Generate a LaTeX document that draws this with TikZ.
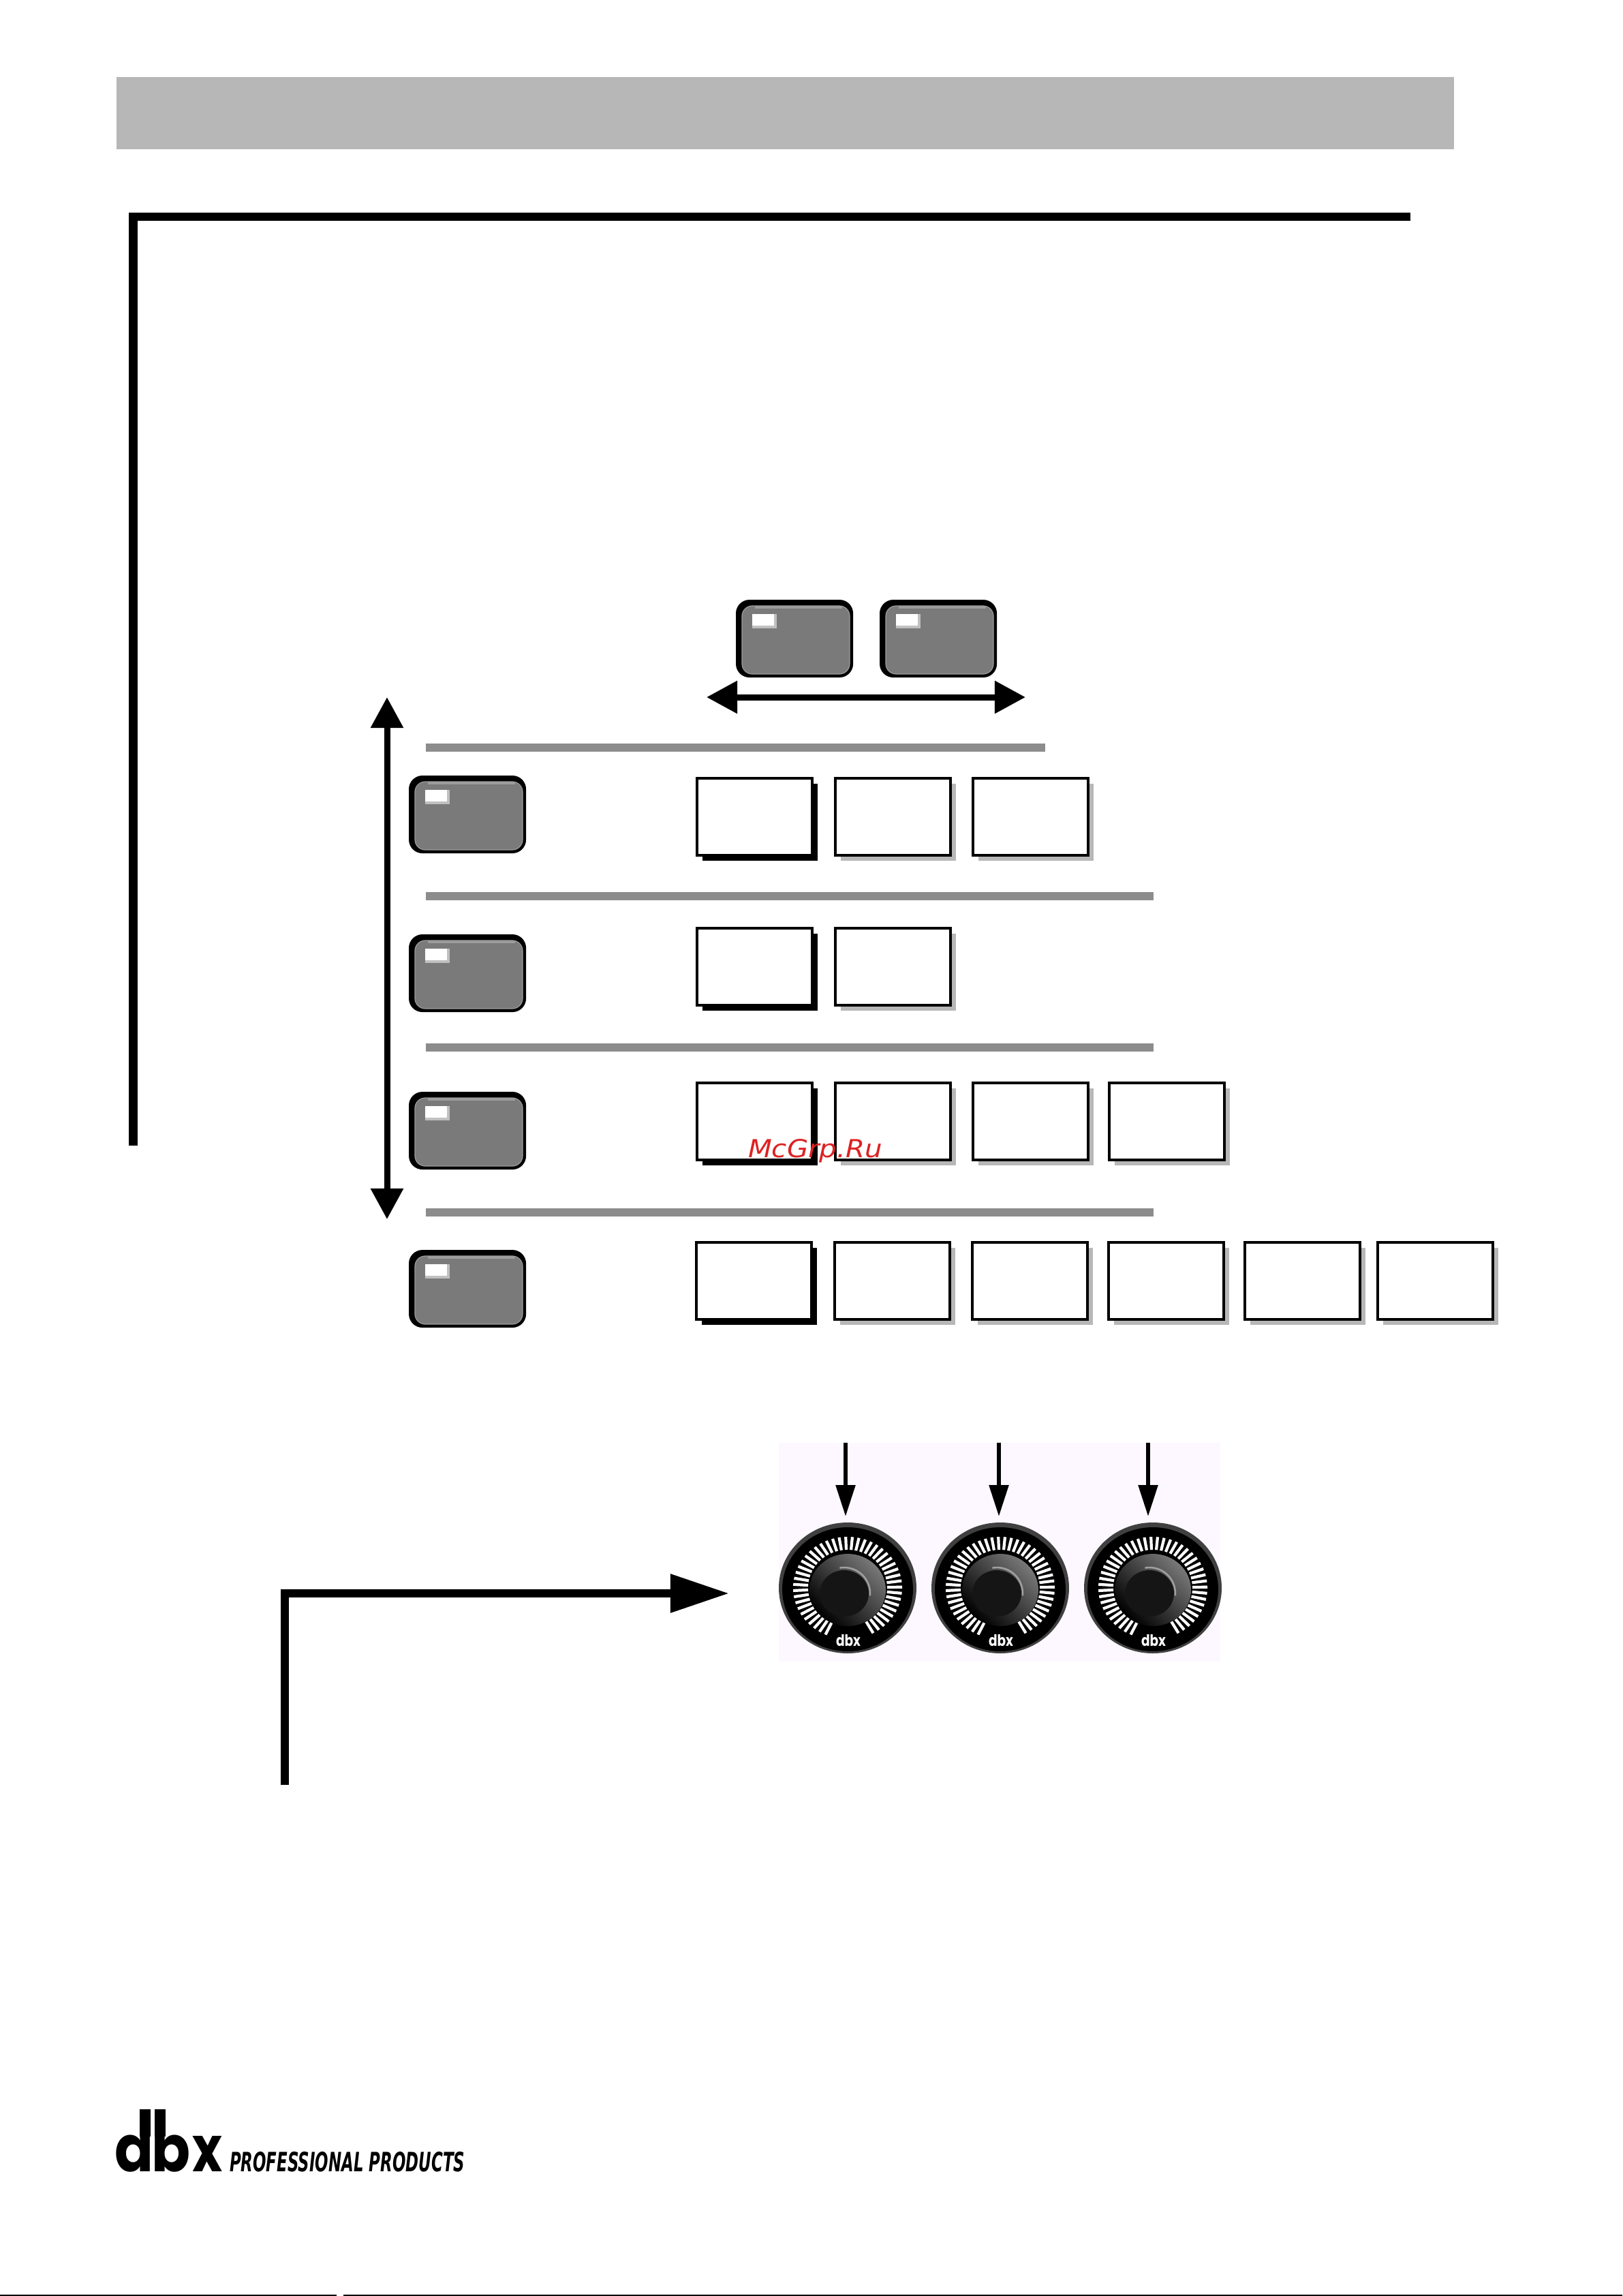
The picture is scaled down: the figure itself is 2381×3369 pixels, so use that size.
\documentclass[tikz,border=0pt]{standalone}
\usepackage{fontspec}
\usepackage{graphicx}
\usetikzlibrary{arrows.meta,shadows}
\newfontfamily\logofont{Poppins}
\newfontfamily\subfont{DejaVu Sans}
\newfontfamily\markfont{DejaVu Sans}
\definecolor{bandgray}{HTML}{B7B7B7}
\definecolor{bargray}{HTML}{8C8C8C}
\definecolor{btnface}{HTML}{7A7A7A}
\definecolor{btnrim}{HTML}{9C9C9C}
\definecolor{ledshade}{HTML}{C0C0C0}
\definecolor{panelpink}{HTML}{FDF8FF}
\definecolor{markred}{HTML}{DD2222}
\definecolor{knobrim}{HTML}{404040}
\definecolor{knobcap}{HTML}{151515}
\definecolor{knobglow}{HTML}{787878}
\definecolor{knobarc}{HTML}{A0A0A0}
\tikzset{
  bandfill/.style={fill=bandgray},
  barfill/.style={fill=bargray},
  btnbody/.style={rectangle,fill=black,rounded corners=.2cm,minimum width=1.72cm,minimum height=1.14cm,inner sep=0,outer sep=0,anchor=north west},
  menubase/.style={rectangle,draw=black,fill=white,line width=.04cm,minimum width=1.69cm,minimum height=1.13cm,inner sep=0,outer sep=.02cm,anchor=north west},
  menublack/.style={menubase,general shadow={shadow xshift=.08cm,shadow yshift=-.08cm,fill=black}},
  menugray/.style={menubase,general shadow={shadow xshift=.08cm,shadow yshift=-.08cm,fill=bandgray}},
  rule/.style={line width=.125cm,line cap=butt,line join=miter},
  bigdouble/.style={line width=.09cm,{Triangle[length=.45cm,width=.46cm]}-{Triangle[length=.45cm,width=.46cm]}},
  elbowarrow/.style={line width=.12cm,line join=miter,-{Triangle[length=.86cm,width=.54cm]}},
  thinarrow/.style={line width=.055cm,-{Triangle[length=.46cm,width=.28cm]}},
  knobtick/.style={draw=white,line width=.042cm},
  markinvis/.style={inner sep=0,outer sep=0}
}
\newcommand\ctlbtn[3]{%
  \node[btnbody] (#1) at (#2,#3) {};
  \filldraw[fill=btnface,draw=btnrim,line width=.012cm,rounded corners=.15cm] (#2+9,#3+9) rectangle (#2+167,#3+109);
  \fill[btnrim] (#2+28,#3+9) rectangle (#2+156,#3+13);
  \fill[ledshade] (#2+24,#3+21) rectangle (#2+60,#3+42);
  \fill[white] (#2+24,#3+21) rectangle (#2+56,#3+38);
}
\newcommand\menubox[4]{\node[#4] (#1) at (#2,#3) {};}
\newcommand\dialknob[2]{%
  \begin{scope}[shift={(#2,2330)}]
    \fill[knobrim] (0,0) ellipse[x radius=101,y radius=96];
    \fill[black] (0,2) ellipse[x radius=96,y radius=91];
    \foreach \ang in {114,121,...,426} {\draw[knobtick] (\ang:58 and 56) -- (\ang:80 and 75);}
    \shade[bottom color=black,middle color=black,top color=knobglow,shading angle=-45] (0,3) ellipse[x radius=56,y radius=53];
    \fill[knobcap] (-5,8) ellipse[x radius=36,y radius=34];
    \draw[knobarc,line width=.025cm] (-5,8) ++(-100:38 and 38) arc[start angle=-100,end angle=5,x radius=38,y radius=38];
    \node[inner sep=0,text=white] (#1) at (1,77) {\resizebox{.36cm}{.17cm}{\logofont\bfseries dbx}};
  \end{scope}%
}
\begin{document}
\begin{tikzpicture}[x=.01cm,y=-.01cm]
\useasboundingbox (0,0) rectangle (2381,3369);
\fill[white] (0,0) rectangle (2381,3369);
% header band
\fill[bandfill] (171,113) rectangle (2134,219);
% top L rule
\coordinate (lA) at (2070,318);
\coordinate (lB) at (195.5,318);
\coordinate (lC) at (195.5,1681);
\draw[rule] (lA) -- (lB) -- (lC);
% top buttons
\ctlbtn{bTopA}{1080}{880}
\ctlbtn{bTopB}{1291}{880}
\coordinate (hL) at (1037,1023);
\coordinate (hR) at (1505,1023);
\draw[bigdouble] (hL) -- (hR);
% vertical arrow
\coordinate (vT) at (568,1023);
\coordinate (vB) at (568,1789);
\draw[bigdouble] (vT) -- (vB);
% bars
\fill[barfill] (625,1091) rectangle (1534,1103);
\fill[barfill] (625,1309) rectangle (1693,1321);
\fill[barfill] (625,1531) rectangle (1693,1543);
\fill[barfill] (625,1773) rectangle (1693,1785);
% side buttons
\ctlbtn{bRowA}{600}{1138}
\ctlbtn{bRowB}{600}{1371}
\ctlbtn{bRowC}{600}{1602}
\ctlbtn{bRowD}{600}{1834}
% menu boxes
\menubox{mA1}{1021}{1140}{menublack}
\menubox{mA2}{1224}{1140}{menugray}
\menubox{mA3}{1426}{1140}{menugray}
\menubox{mB1}{1021}{1360}{menublack}
\menubox{mB2}{1224}{1360}{menugray}
\menubox{mC1}{1021}{1587}{menublack}
\menubox{mC2}{1224}{1587}{menugray}
\menubox{mC3}{1426}{1587}{menugray}
\menubox{mC4}{1626}{1587}{menugray}
\menubox{mD1}{1020}{1821}{menublack}
\menubox{mD2}{1223}{1821}{menugray}
\menubox{mD3}{1425}{1821}{menugray}
\menubox{mD4}{1625}{1821}{menugray}
\menubox{mD5}{1825}{1821}{menugray}
\menubox{mD6}{2020}{1821}{menugray}
% watermark
\node[markinvis,anchor=base west,text=markred] (wm) at (1098,1698) {\resizebox{1.97cm}{.27cm}{\markfont\itshape McGrp.Ru}};
% knob panel
\fill[panelpink] (1143,2117) rectangle (1791,2438);
\dialknob{kA}{1244}
\dialknob{kB}{1468}
\dialknob{kC}{1692}
\coordinate (aAs) at (1241,2117); \coordinate (aAe) at (1241,2225);
\coordinate (aBs) at (1466,2117); \coordinate (aBe) at (1466,2225);
\coordinate (aCs) at (1685,2117); \coordinate (aCe) at (1685,2225);
\draw[thinarrow] (aAs) -- (aAe);
\draw[thinarrow] (aBs) -- (aBe);
\draw[thinarrow] (aCs) -- (aCe);
% elbow arrow
\coordinate (eA) at (418,2619);
\coordinate (eB) at (418,2338);
\coordinate (eC) at (1070,2338);
\draw[elbowarrow] (eA) -- (eB) -- (eC);
% logo
\node[markinvis,anchor=south west] (logoword) at (168,3187) {\logofont\bfseries\resizebox{.57cm}{.70cm}{d}\kern-.03cm\resizebox{.57cm}{.70cm}{b}\kern.03cm\resizebox{.44cm}{.52cm}{x}};
\fill[black] (205,3095) rectangle (221,3135);
\fill[black] (227,3095) rectangle (243,3135);
\node[markinvis,anchor=south west] (logosub) at (337,3187) {\resizebox{3.45cm}{.29cm}{\subfont\bfseries\itshape PROFESSIONAL PRODUCTS}};
% bottom page rule
\fill[black] (0,3367) rectangle (494,3369);
\fill[black] (504,3367) rectangle (2381,3369);
\end{tikzpicture}
\end{document}
